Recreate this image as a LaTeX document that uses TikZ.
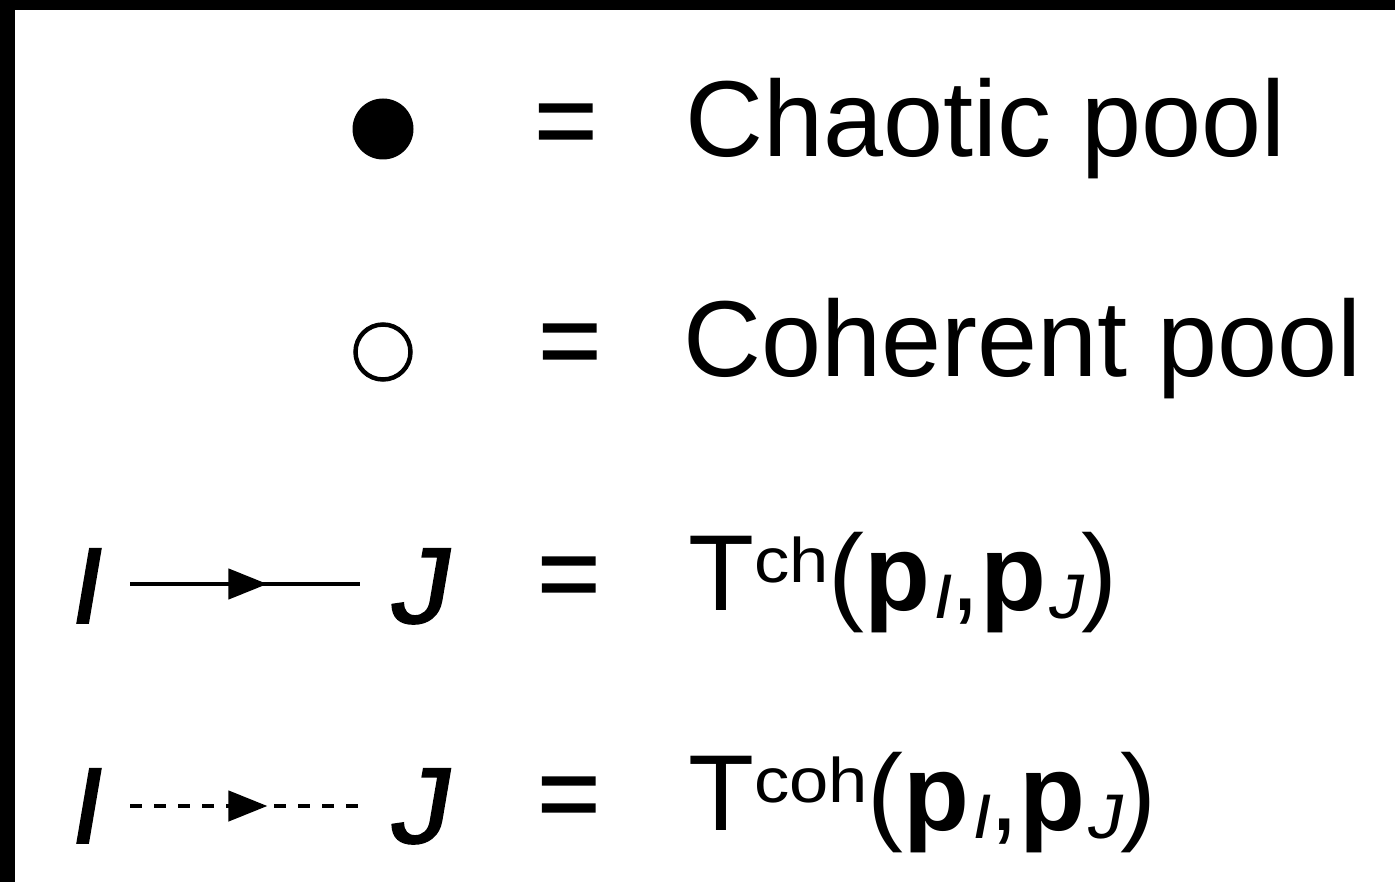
\documentclass[tikz,border=0pt]{standalone}
\usepackage{fontspec}
\usepackage{graphicx}
\setmainfont{Liberation Sans}
% oblique faces for the pool indices
\newfontfamily\oblfont[FakeSlant=0.17]{Liberation Sans}
\newfontfamily\idxfont[FakeSlant=0.17, FakeBold=1.5, FakeStretch=1.1]{Liberation Sans}
\newfontfamily\eqfont[FakeBold=1.2]{Liberation Sans}
\usetikzlibrary{arrows.meta,decorations.markings}

% type sizes
\newcommand{\bigsize}{\fontsize{108}{120}\selectfont}
\newcommand{\scriptsz}{\fontsize{63}{70}\selectfont}
% wide, raised / lowered indices
\newcommand{\supidx}[1]{\raisebox{28pt}{\scriptsz\scalebox{1.12}[1]{#1}}}
\newcommand{\subidx}[1]{\raisebox{-8pt}{\scriptsz\scalebox{1.12}[1]{\oblfont #1}}}

\tikzset{
  txt/.style={anchor=base west, inner sep=0pt, font=\bigsize},
  eqsign/.style={txt, font=\bigsize\eqfont},
  idx/.style={anchor=base west, inner sep=0pt, font=\bigsize\idxfont,
              text height=#1, text depth=0pt},
  idx/.default=78pt,
  link/.style={line width=4.5pt, shorten <=31pt, shorten >=27pt,
    postaction={decorate, decoration={markings,
      mark=at position 168pt with {\arrow{Triangle[length=39pt,width=30pt]}}}}},
  cohlink/.style={link, dash pattern=on 12pt off 12pt},
}

\begin{document}
\begin{tikzpicture}[x=1pt, y=-1pt]
  \useasboundingbox (0,0) rectangle (1395,882);
  \fill[white] (0,0) rectangle (1395,882);
  % frame edges along top and left
  \fill[black] (0,0) rectangle (1395,10);
  \fill[black] (0,0) rectangle (15,882);

  % chaotic pool
  \node[circle, fill=black, minimum size=61pt, inner sep=0pt] (dot) at (383,129) {};
  \node[eqsign] (eq1) at (534,157) {=};
  \node[txt] (chaotic) at (685,157) {Chaotic pool};

  % coherent pool
  \node[circle, draw=black, line width=4.5pt, minimum size=55pt, inner sep=0pt] (ring) at (383,352) {};
  \node[eqsign] (eq2) at (538,377) {=};
  \node[txt] (coherent) at (683,377) {Coherent pool};

  % chaotic transition
  \node[idx] (I3) at (66,623) {I};
  \node[idx] (J3) at (387,623) {J};
  \draw[link] (I3.east) -- (J3.west);
  \node[eqsign] (eq3) at (537,610) {=};
  \node[txt] (tch) at (688,610) {T\supidx{ch}(\textbf{p}\subidx{I},\textbf{p}\subidx{J})};

  % coherent transition
  \node[idx=74pt] (I4) at (66,843) {I};
  \node[idx=74pt] (J4) at (387,843) {J};
  \draw[cohlink] (I4.east) -- (J4.west);
  \node[eqsign] (eq4) at (537,830) {=};
  \node[txt] (tcoh) at (688,830) {T\supidx{coh}(\textbf{p}\subidx{I},\textbf{p}\subidx{J})};
\end{tikzpicture}
\end{document}
